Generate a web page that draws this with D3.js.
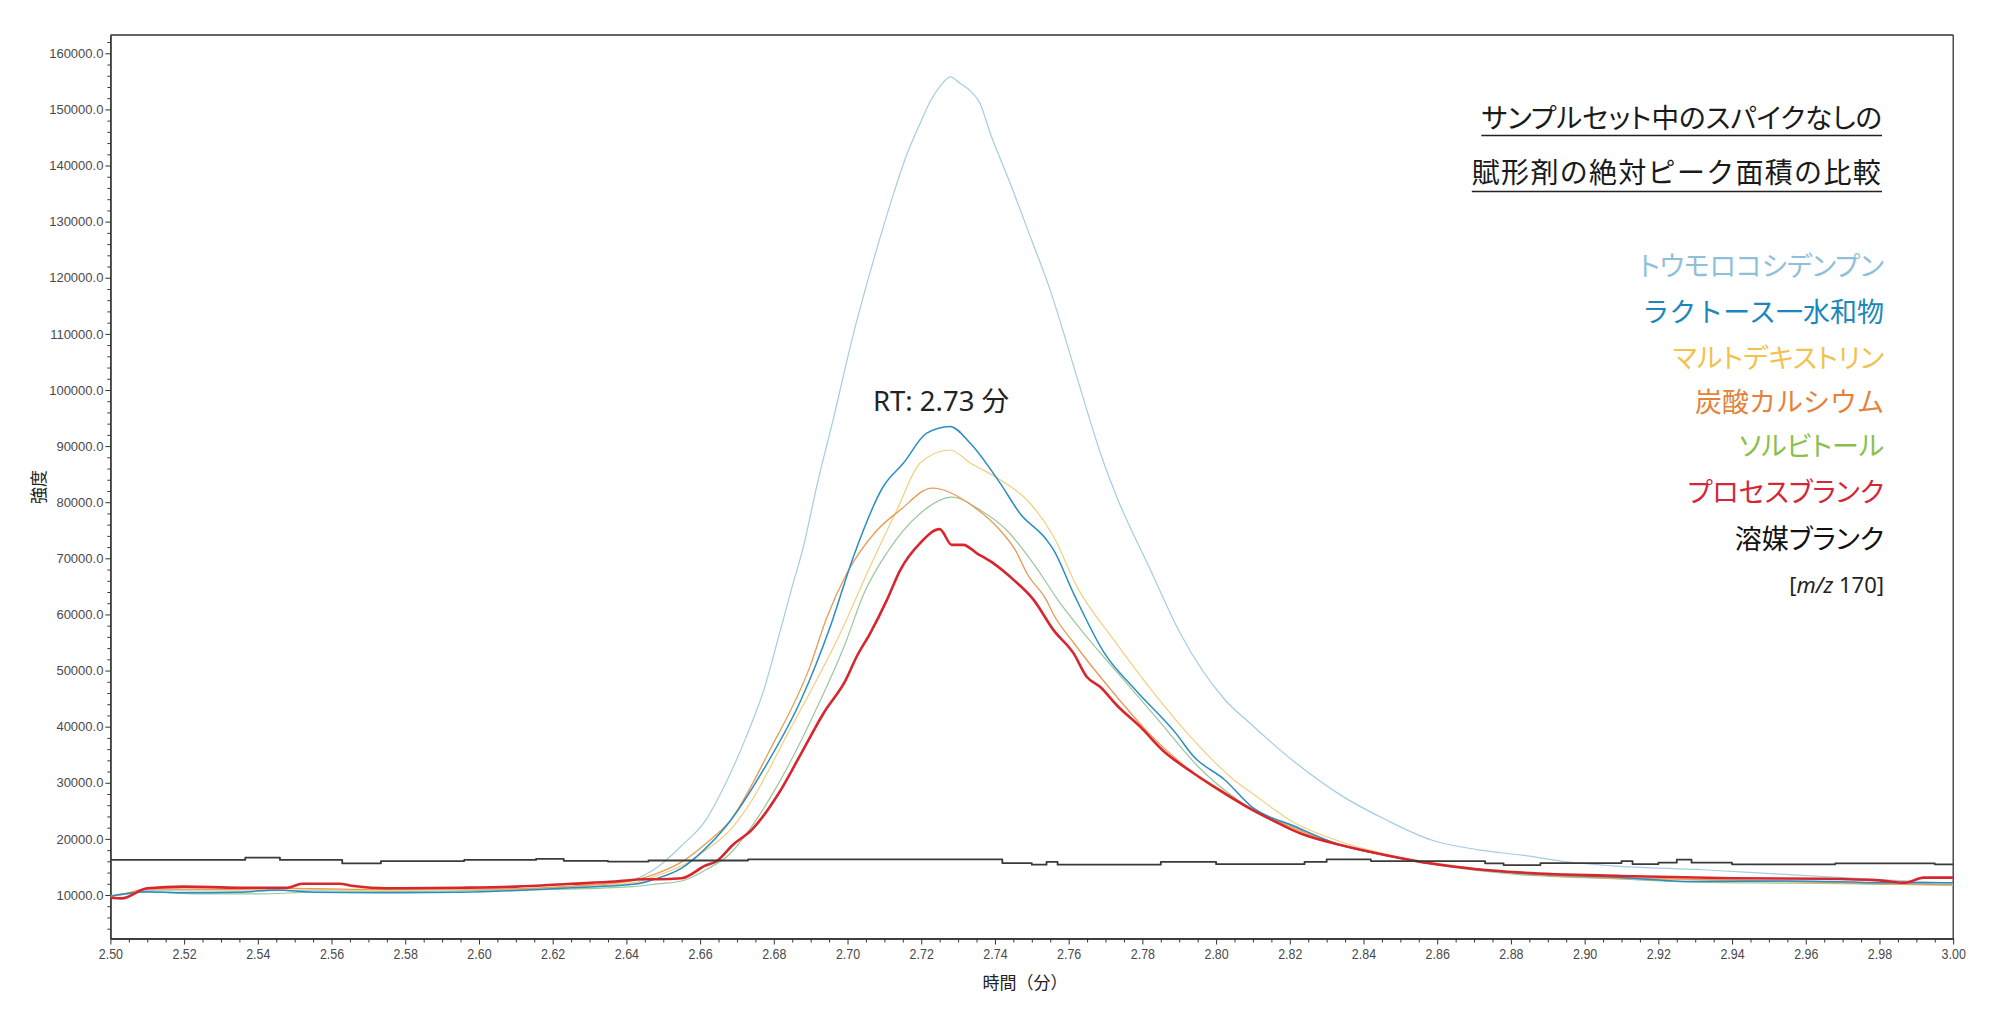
<!DOCTYPE html>
<html><head><meta charset="utf-8">
<script src="https://cdn.jsdelivr.net/npm/d3@7"></script>
<style>
html,body{margin:0;padding:0;background:#fff;}
svg{display:block;}
.jp{font-family:"Noto Sans CJK JP","Noto Sans",sans-serif;}
.palt{font-feature-settings:"palt";}
</style></head><body>
<svg id="chart" width="2000" height="1009"></svg>
<script>
// ---------------- data ----------------
const titleLines = ["サンプルセット中のスパイクなしの", "賦形剤の絶対ピーク面積の比較"];
const seriesNames = ["トウモロコシデンプン","ラクトース一水和物","マルトデキストリン","炭酸カルシウム","ソルビトール","プロセスブランク","溶媒ブランク"];
const legendColors = ["#8fc0da","#1b87bb","#f1c24f","#e4823b","#8bbf4c","#d3283a","#111111"];
const lineColors   = ["#a3cde3","#2a8ec2","#f3cf7e","#e99a55","#9bc79c","#d8262f","#3a3a3a"];
const massLabel = "170";
const rtLabel = "RT: 2.73 分";
const xAxisTitle = "時間（分）";
const yAxisTitle = "強度";

const cornStarch = [[2.500,9700],[2.505,10300],[2.510,10800],[2.530,10700],[2.550,10800],[2.570,10900],[2.590,11000],[2.610,11100],[2.625,11500],[2.635,12000],[2.6418,12700],[2.6485,15000],[2.655,18800],[2.6616,23400],[2.667,30000],[2.6729,38800],[2.6775,47000],[2.6813,56000],[2.685,65000],[2.688,72000],[2.6917,83000],[2.6962,95000],[2.7016,110000],[2.707,123000],[2.7125,135000],[2.7161,142000],[2.7197,147500],[2.7225,151500],[2.7251,154100],[2.7279,155800],[2.7306,154600],[2.7333,153300],[2.736,151000],[2.7387,145800],[2.7441,136900],[2.7496,127300],[2.755,117800],[2.7595,108300],[2.7649,96500],[2.769,88000],[2.7734,80400],[2.7818,68500],[2.7903,56600],[2.8024,44800],[2.8092,40600],[2.8215,33600],[2.8338,27800],[2.8461,23400],[2.8584,19800],[2.8707,18100],[2.883,17100],[2.8953,15900],[2.9075,15200],[2.9321,14500],[2.9566,13600],[2.9813,12700],[3.0,12100]];
const lactose = [[2.500,9800],[2.505,10300],[2.510,10600],[2.520,10400],[2.535,10500],[2.545,10900],[2.555,10500],[2.575,10400],[2.595,10500],[2.610,10800],[2.625,11300],[2.6418,11900],[2.6485,13000],[2.655,14800],[2.661,18000],[2.667,22200],[2.6777,32900],[2.6874,44800],[2.6953,57800],[2.7016,70300],[2.7097,82800],[2.7152,87000],[2.7215,92300],[2.7278,93500],[2.7333,90500],[2.7414,83400],[2.7468,78000],[2.754,73300],[2.7559,71500],[2.7613,63800],[2.7697,53100],[2.7782,46500],[2.7891,38800],[2.7939,34700],[2.8024,30500],[2.8097,25700],[2.8215,22200],[2.8338,18900],[2.8461,17100],[2.8584,15600],[2.8707,14600],[2.883,13900],[2.9075,13200],[2.93,12400],[2.9566,12500],[2.9813,12200],[3.0,12200]];
const maltodextrin = [[2.500,9800],[2.505,10400],[2.510,11000],[2.530,10900],[2.550,11100],[2.570,10800],[2.590,11000],[2.610,11100],[2.625,11400],[2.6418,12200],[2.6485,13500],[2.655,15200],[2.6616,18000],[2.6682,21600],[2.6729,25700],[2.6838,38800],[2.698,56600],[2.7061,68500],[2.7134,78600],[2.7197,87000],[2.7278,89300],[2.7333,87000],[2.7414,84000],[2.7487,80400],[2.7559,73900],[2.7622,65000],[2.7722,55500],[2.7818,47100],[2.7939,37600],[2.806,29900],[2.8092,28400],[2.8215,22800],[2.8338,19500],[2.8461,17300],[2.8584,15800],[2.8707,14700],[2.883,13900],[2.9075,13200],[2.93,12700],[2.9566,12300],[2.9813,12000],[3.0,11800]];
const calciumCarbonate = [[2.500,9700],[2.505,10400],[2.510,11100],[2.530,11000],[2.550,11200],[2.570,11000],[2.590,11100],[2.610,11100],[2.625,11600],[2.6392,12300],[2.6485,13900],[2.655,15900],[2.6616,19200],[2.6682,23300],[2.6789,35800],[2.6898,50700],[2.6944,59500],[2.6998,67300],[2.708,75000],[2.7143,78600],[2.7229,82500],[2.7342,79200],[2.7414,75000],[2.7455,71500],[2.7487,67300],[2.754,62500],[2.7559,60000],[2.7613,55000],[2.7722,46000],[2.7818,38800],[2.7939,31700],[2.8049,26900],[2.8215,21800],[2.8338,18900],[2.8461,17100],[2.8584,15600],[2.8707,14600],[2.883,13800],[2.9075,13000],[2.93,12800],[2.9566,12400],[2.9813,12000],[3.0,11900]];
const sorbitol = [[2.500,9800],[2.505,10200],[2.510,10500],[2.525,10200],[2.540,10200],[2.555,10500],[2.575,10600],[2.600,10800],[2.620,11000],[2.6418,11500],[2.6485,12000],[2.655,12500],[2.6616,14500],[2.6682,17400],[2.6729,21200],[2.6813,29900],[2.691,42400],[2.6995,55000],[2.7043,63500],[2.7107,71000],[2.7197,78000],[2.7283,80900],[2.736,78600],[2.7432,75000],[2.7505,69000],[2.7577,62000],[2.7649,56000],[2.7734,49500],[2.7843,41200],[2.7951,32900],[2.806,26900],[2.8215,22000],[2.8338,18900],[2.8461,17000],[2.8584,15500],[2.8707,14400],[2.883,13600],[2.9075,12900],[2.93,12300],[2.9566,12100],[2.9813,11900],[3.0,11700]];
const processBlank = [[2.500,9500],[2.503,9400],[2.510,11200],[2.520,11500],[2.535,11300],[2.548,11300],[2.552,12000],[2.562,12000],[2.566,11600],[2.575,11200],[2.595,11300],[2.610,11500],[2.625,12000],[2.637,12400],[2.645,12800],[2.6485,12800],[2.655,13000],[2.6616,15300],[2.6644,16000],[2.669,19000],[2.674,21600],[2.6813,28100],[2.6874,35200],[2.6935,42400],[2.6995,48300],[2.7025,52500],[2.7061,56600],[2.7107,62600],[2.7143,67900],[2.7197,72700],[2.725,75200],[2.7283,72400],[2.7314,72400],[2.7351,70900],[2.7396,69100],[2.745,66200],[2.7505,62600],[2.7559,57200],[2.7613,53100],[2.7649,48900],[2.7685,47100],[2.7734,43600],[2.7794,40000],[2.7855,35800],[2.7939,31700],[2.8024,28100],[2.8097,25200],[2.8169,22800],[2.8228,21000],[2.8338,18900],[2.8461,17100],[2.8584,15600],[2.8707,14600],[2.883,14000],[2.91,13400],[2.94,13000],[2.965,12900],[2.98,12600],[2.987,12200],[2.992,13100],[3.0,13100]];
const solventBlank = [[2.500,16250],[2.5366,16650],[2.546,16250],[2.5629,15650],[2.5734,16050],[2.596,16250],[2.6155,16450],[2.623,16100],[2.635,15950],[2.646,16150],[2.673,16350],[2.742,15700],[2.750,15400],[2.754,15900],[2.757,15400],[2.785,15900],[2.80,15500],[2.824,15900],[2.830,16350],[2.842,16050],[2.873,15650],[2.878,15340],[2.888,15700],[2.910,16050],[2.913,15500],[2.92,15760],[2.925,16290],[2.929,15760],[2.94,15460],[2.968,15640],[2.995,15460],[3.0,15460]];

const seriesData = [cornStarch, lactose, maltodextrin, calciumCarbonate, sorbitol, processBlank, solventBlank];
const lineWidths = [1.2, 1.5, 1.2, 1.3, 1.2, 2.6, 1.8];
const legendPalt = [true, false, true, false, true, true, true];
const drawOrder = [0, 2, 4, 3, 1, 5, 6];

// ---------------- chart ----------------
const svg = d3.select("#chart");
const x = d3.scaleLinear().domain([2.5, 3.0]).range([110.4, 1953.2]);
const y = d3.scaleLinear().domain([2250, 163260]).range([938.5, 35]);

const xMajor = d3.range(0, 26).map(i => +(2.5 + i * 0.02).toFixed(2));
const xMinor = d3.range(0, 101).map(i => +(2.5 + i * 0.005).toFixed(3)).filter(v => Math.round(v * 1000) % 20 !== 0);
const yMajor = d3.range(1, 17).map(i => i * 10000);
const yMinor = d3.range(2, 82).map(i => i * 2000).filter(v => v % 10000 !== 0);

// frame top and right
svg.append("line").attr("x1", x(2.5)).attr("x2", x(3.0)).attr("y1", y.range()[1]).attr("y2", y.range()[1])
  .attr("stroke", "#333").attr("stroke-width", 1.3);
svg.append("line").attr("x1", x(3.0)).attr("x2", x(3.0)).attr("y1", y.range()[1]).attr("y2", y.range()[0])
  .attr("stroke", "#333").attr("stroke-width", 1.3);

// x axis
const gxMinor = svg.append("g").attr("transform", `translate(0,${y.range()[0]})`)
  .call(d3.axisBottom(x).tickValues(xMinor).tickSize(4).tickSizeOuter(0).tickFormat(""));
const gx = svg.append("g").attr("transform", `translate(0,${y.range()[0]})`)
  .call(d3.axisBottom(x).tickValues(xMajor).tickSize(6).tickSizeOuter(0).tickPadding(4).tickFormat(d3.format(".2f")));
// y axis
const gyMinor = svg.append("g").attr("transform", `translate(${x.range()[0]},0)`)
  .call(d3.axisLeft(y).tickValues(yMinor).tickSize(3).tickSizeOuter(0).tickFormat(""));
const gy = svg.append("g").attr("transform", `translate(${x.range()[0]},0)`)
  .call(d3.axisLeft(y).tickValues(yMajor).tickSize(5).tickSizeOuter(0).tickPadding(2).tickFormat(d3.format(".1f")));

[gx, gy, gxMinor, gyMinor].forEach(g => {
  g.select(".domain").attr("stroke", "#333").attr("stroke-width", 1.3);
  g.selectAll(".tick line").attr("stroke", "#333").attr("stroke-width", 1);
});
gy.selectAll(".tick text").attr("font-family", "'Liberation Sans', Arial, sans-serif").attr("font-size", 13).attr("fill", "#4a4a4a");
gx.selectAll(".tick text").attr("font-family", "'Liberation Sans', Arial, sans-serif").attr("font-size", 14.5).attr("fill", "#4a4a4a")
  .attr("transform", "scale(0.86,1)").attr("x", 0).attr("text-anchor", "middle");

// axis titles
svg.append("text").attr("class", "jp").attr("x", 1025).attr("y", 981).attr("text-anchor", "middle")
  .attr("dominant-baseline", "central").attr("font-size", 17).attr("fill", "#222").text(xAxisTitle);
svg.append("text").attr("class", "jp").attr("transform", "translate(37,487) rotate(-90)").attr("text-anchor", "middle")
  .attr("dominant-baseline", "central").attr("font-size", 17).attr("fill", "#222").text(yAxisTitle);

// clip for lines
svg.append("clipPath").attr("id", "plotclip").append("rect")
  .attr("x", x.range()[0]).attr("y", y.range()[1]).attr("width", x.range()[1] - x.range()[0]).attr("height", y.range()[0] - y.range()[1]);

const plot = svg.append("g").attr("clip-path", "url(#plotclip)");
const lineSmooth = d3.line().x(d => x(d[0])).y(d => y(d[1])).curve(d3.curveMonotoneX);
const lineStep = d3.line().x(d => x(d[0])).y(d => y(d[1])).curve(d3.curveStepAfter);

drawOrder.forEach(i => {
  plot.append("path").datum(seriesData[i])
    .attr("d", i === 6 ? lineStep : lineSmooth)
    .attr("fill", "none").attr("stroke", lineColors[i]).attr("stroke-width", lineWidths[i])
    .attr("stroke-linejoin", "round");
});

// RT annotation
svg.append("text").attr("x", 941).attr("y", 400).attr("text-anchor", "middle").attr("dominant-baseline", "central")
  .attr("font-family", "'Noto Sans','Noto Sans CJK JP',sans-serif").attr("font-size", 27.5).attr("fill", "#222").text(rtLabel);

// title with underlines
const titleX = 1882;
const titleY = [116, 171];
const underlineY = [135.5, 191.5];
const titleSize = [27.6, 28];
const titleSpacing = [0, 1.3];
const titlePalt = [true, false];
titleLines.forEach((s, i) => {
  const t = svg.append("text").attr("class", titlePalt[i] ? "jp palt" : "jp").attr("x", titleX).attr("y", titleY[i]).attr("text-anchor", "end")
    .attr("dominant-baseline", "central").attr("font-size", titleSize[i]).attr("letter-spacing", titleSpacing[i])
    .attr("fill", "#1a1a1a").text(s);
  const bb = t.node().getBBox();
  svg.append("line").attr("x1", bb.x).attr("x2", titleX).attr("y1", underlineY[i]).attr("y2", underlineY[i])
    .attr("stroke", "#222").attr("stroke-width", 1.6);
});

// legend
const legendY = [264, 310, 356, 400, 444, 490, 537];
seriesNames.forEach((s, i) => {
  svg.append("text").attr("class", legendPalt[i] ? "jp palt" : "jp").attr("x", 1884).attr("y", legendY[i]).attr("text-anchor", "end")
    .attr("dominant-baseline", "central").attr("font-size", 27).attr("fill", legendColors[i]).text(s);
});
const mz = svg.append("text").attr("x", 1884).attr("y", 584).attr("text-anchor", "end").attr("dominant-baseline", "central")
  .attr("font-family", "'Noto Sans','Open Sans',sans-serif").attr("font-size", 22).attr("fill", "#222");
mz.append("tspan").text("[");
mz.append("tspan").attr("font-style", "italic").text("m/z");
mz.append("tspan").text(" " + massLabel + "]");
</script>
</body></html>
